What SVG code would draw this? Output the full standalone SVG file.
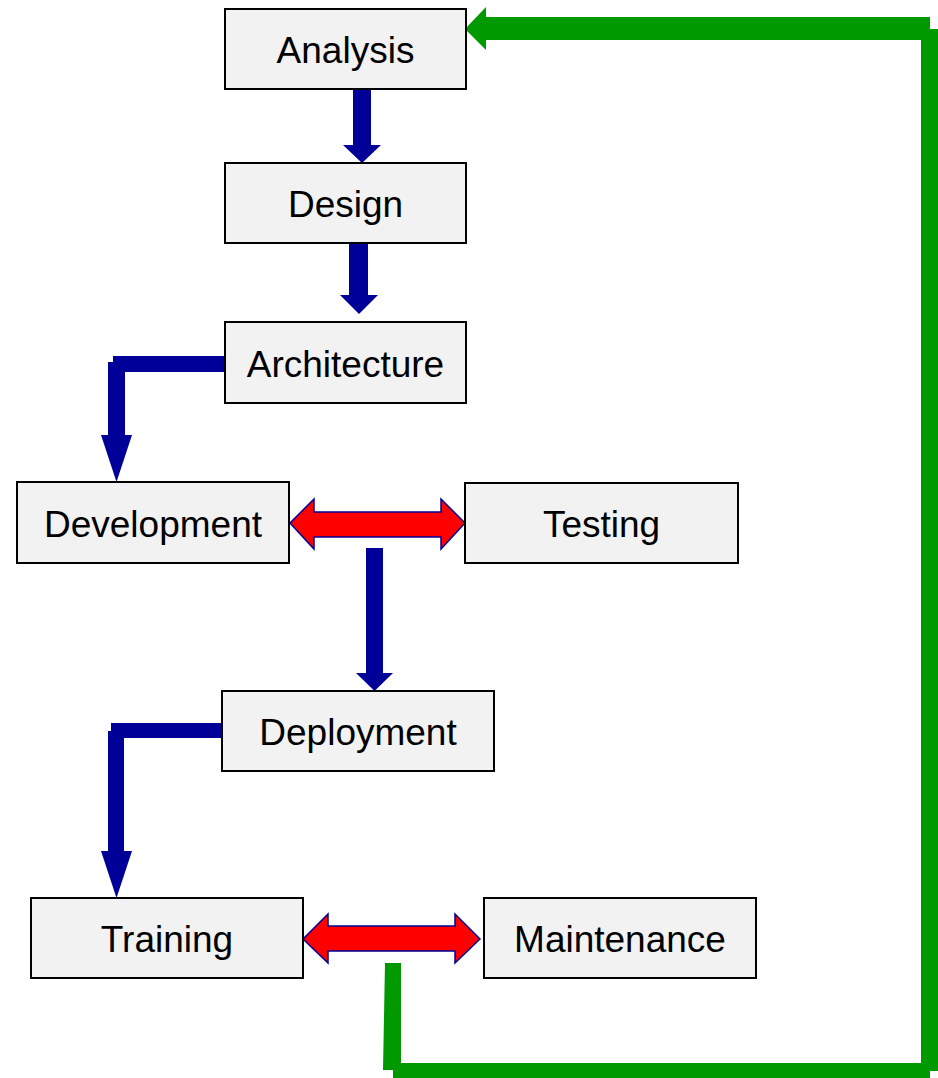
<svg xmlns="http://www.w3.org/2000/svg" width="938" height="1078" viewBox="0 0 938 1078">
<style>
.box{fill:#f2f2f2;stroke:#000;stroke-width:2}
.lbl{font-family:"Liberation Sans",Arial,sans-serif;font-size:37px;fill:#000;text-anchor:middle}
.blue{fill:#000099}
.red{fill:#ff0000;stroke:#000099;stroke-width:1.5;stroke-linejoin:miter}
.green{fill:#009900}
</style>
<rect width="938" height="1078" fill="#fff"/>
<g id="connectors">
  <g id="analysis-design">
    <rect class="blue" x="353" y="89" width="18" height="57"/>
    <polygon class="blue" points="343,145 381,145 362,163"/>
  </g>
  <g id="design-architecture">
    <rect class="blue" x="349" y="243" width="19" height="53"/>
    <polygon class="blue" points="340,295 378,295 359,314"/>
  </g>
  <g id="architecture-development">
    <rect class="blue" x="113" y="356" width="112" height="16"/>
    <rect class="blue" x="108" y="362" width="17" height="74"/>
    <polygon class="blue" points="101,435 132,435 116.5,482"/>
  </g>
  <g id="development-testing">
    <polygon class="red" points="290,523 314,499 314,512 441,512 441,499 465,523 441,549 441,537 314,537 314,549"/>
  </g>
  <g id="testing-deployment">
    <rect class="blue" x="366" y="548" width="17" height="126"/>
    <polygon class="blue" points="356,673 393,673 374.5,691"/>
  </g>
  <g id="deployment-training">
    <rect class="blue" x="111" y="723" width="111" height="15"/>
    <rect class="blue" x="108" y="731" width="16" height="121"/>
    <polygon class="blue" points="101,851 132,851 116.5,898"/>
  </g>
  <g id="training-maintenance">
    <polygon class="red" points="303,939 328,914 328,926 455,926 455,914 480,939 455,963 455,951 328,951 328,963"/>
  </g>
  <g id="maintenance-analysis">
    <polygon class="green" points="385,963 401,963 401,1070 383,1070"/>
    <rect class="green" x="393" y="1063" width="537" height="15"/>
    <rect class="green" x="921" y="29" width="17" height="1042"/>
    <rect class="green" x="485" y="17" width="445" height="23"/>
    <polygon class="green" points="465,29 486,7 486,50"/>
  </g>
</g>
<g id="analysis"><rect class="box" x="225" y="9" width="241" height="80"/><text class="lbl" x="345.5" y="63">Analysis</text></g>
<g id="design"><rect class="box" x="225" y="163" width="241" height="80"/><text class="lbl" x="345.5" y="217">Design</text></g>
<g id="architecture"><rect class="box" x="225" y="322" width="241" height="81"/><text class="lbl" x="345.5" y="377">Architecture</text></g>
<g id="development"><rect class="box" x="17" y="482" width="272" height="81"/><text class="lbl" x="153" y="537">Development</text></g>
<g id="testing"><rect class="box" x="465" y="483" width="273" height="80"/><text class="lbl" x="601.5" y="537">Testing</text></g>
<g id="deployment"><rect class="box" x="222" y="691" width="272" height="80"/><text class="lbl" x="358" y="745">Deployment</text></g>
<g id="training"><rect class="box" x="31" y="898" width="272" height="80"/><text class="lbl" x="167" y="952">Training</text></g>
<g id="maintenance"><rect class="box" x="484" y="898" width="272" height="80"/><text class="lbl" x="620" y="952">Maintenance</text></g>
</svg>
